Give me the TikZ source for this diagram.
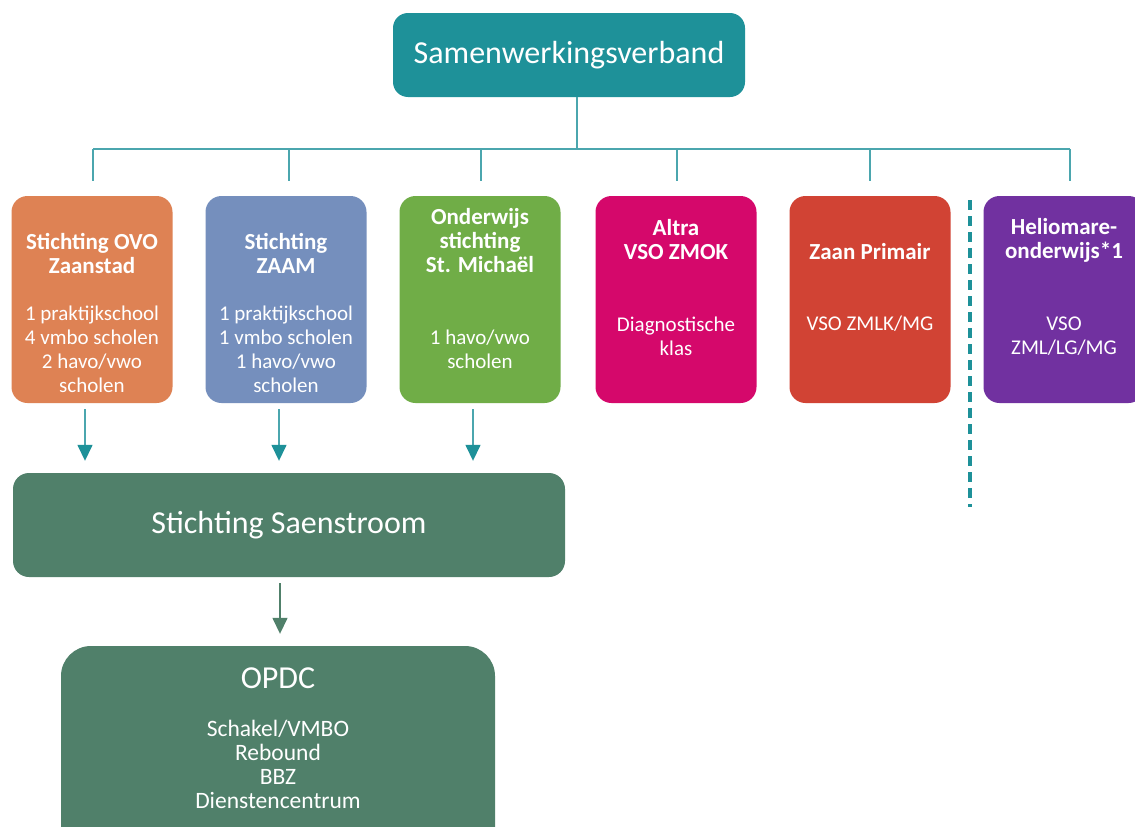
\documentclass[tikz,border=0pt]{standalone}
\usepackage{fontspec}
\setmainfont{Carlito}
\usepackage{tikz}
\usepackage{xcolor}
\definecolor{sam}{RGB}{30,145,153}
\definecolor{lijn}{RGB}{75,166,174}
\definecolor{ovo}{RGB}{222,130,84}
\definecolor{zaam}{RGB}{117,143,189}
\definecolor{mich}{RGB}{112,173,71}
\definecolor{altra}{RGB}{213,8,107}
\definecolor{zaan}{RGB}{209,67,52}
\definecolor{helio}{RGB}{113,49,160}
\definecolor{saen}{RGB}{80,128,106}
\usetikzlibrary{arrows.meta, calc}

\begin{document}
\begin{tikzpicture}[x=1pt, y=-1pt,
blok/.style={rounded corners=16pt, minimum width=161pt, minimum height=207pt, inner sep=0pt},
kop/.style={text=white, align=center, inner sep=0pt, font=\fontsize{23}{24}\selectfont\bfseries},
tekst/.style={text=white, align=center, inner sep=0pt, font=\fontsize{21}{24}\selectfont},
groot/.style={text=white, inner sep=0pt, font=\fontsize{32}{38}\selectfont},
lijntje/.style={draw=lijn, line width=2pt},
pijl/.style={draw=lijn, line width=1.5pt, -{Triangle[width=15pt,length=16pt,color=sam]}, shorten <=6pt, shorten >=12pt}]
\clip (0,0) rectangle (1135,827);
\fill[white] (0,0) rectangle (1135,827);

\node[groot, fill=sam, rounded corners=15pt, minimum width=352pt, minimum height=84pt] (sam) at (569,55) {Samenwerkingsverband};
\coordinate (bus) at (577,149);

\foreach \naam/\xx in {ovo/92, zaam/286, mich/480, altra/676, zaan/870, helio/1064}
\node[blok, fill=\naam] (\naam) at (\xx,299.5) {};

\node[kop] (kovo) at (92,253) {Stichting OVO\\Zaanstad};
\node[tekst] (tovo) at (92,349) {1 praktijkschool\\4 vmbo scholen\\2 havo/vwo\\scholen};
\node[kop] (kzaam) at (286,253) {Stichting\\ZAAM};
\node[tekst] (tzaam) at (286,349) {1 praktijkschool\\1 vmbo scholen\\1 havo/vwo\\scholen};
\node[kop] (kmich) at (480,241) {Onderwijs\\stichting\\St. Michaël};
\node[tekst] (tmich) at (480,349) {1 havo/vwo\\scholen};
\node[kop] (kaltra) at (676,240) {Altra\\VSO ZMOK};
\node[tekst] (taltra) at (676,336) {Diagnostische\\klas};
\node[kop] (kzaan) at (870,252) {Zaan Primair};
\node[tekst] (tzaan) at (870,324) {VSO ZMLK/MG};
\node[kop] (khelio) at (1064,240) {Heliomare-\\onderwijs*1};
\node[tekst] (thelio) at (1064,336) {VSO\\ZML/LG/MG};

\draw[lijntje] (sam.south -| bus) -- (bus);
\draw[lijntje] ($(bus -| ovo.north)+(1,0)$) -- ($(bus -| helio.north)+(6,0)$);
\foreach \naam/\dx in {ovo/1, zaam/3, mich/1, altra/1, zaan/0, helio/6}
\draw[lijntje] ($(bus -| \naam.north)+(\dx,0)$) -- ($(\naam.north)+(\dx,-15)$);

\draw[draw=sam, line width=3.5pt, dash pattern=on 10pt off 6pt] (970,200) -- (970,507);

\node[groot, fill=saen, rounded corners=16pt, minimum width=552pt, minimum height=104pt] (saen) at (289,525) {Stichting Saenstroom};
\node[fill=saen, rounded corners=30pt, minimum width=434pt, minimum height=230pt] (opdc) at (278,761) {};
\node[groot] (kopdc) at (278,678) {OPDC};
\node[tekst, font=\fontsize{23.5}{24}\selectfont] (topdc) at (278,764.5) {Schakel/VMBO\\Rebound\\BBZ\\Dienstencentrum};

\foreach \naam in {ovo, zaam, mich}
\draw[pijl] ($(\naam.south)+(-7,0)$) -- ($(\naam.south |- saen.north)+(-7,0)$);
\draw[pijl, draw=saen, -{Triangle[width=15pt,length=16pt,color=saen]}] ($(opdc.north |- saen.south)+(2,0)$) -- ($(opdc.north)+(2,0)$);
\end{tikzpicture}
\end{document}
